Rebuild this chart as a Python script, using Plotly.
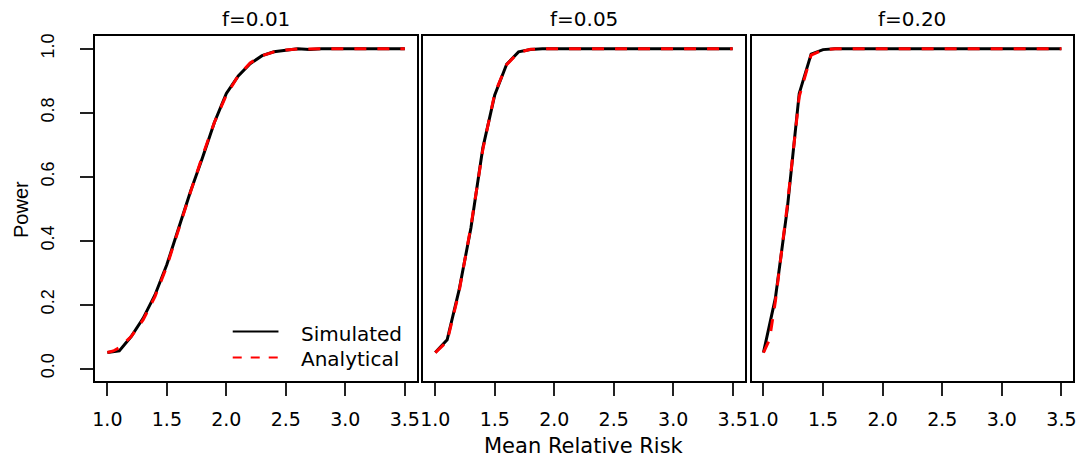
import plotly.graph_objects as go

# Mean relative risk grid used by both methods
rr = [1.0, 1.1, 1.2, 1.3, 1.4, 1.5, 1.6, 1.7, 1.8, 1.9, 2.0, 2.1, 2.2,
      2.3, 2.4, 2.5, 2.6, 2.7, 2.8, 2.9, 3.0, 3.1, 3.2, 3.3, 3.4, 3.5]
rr_analytical = [1.0, 1.05, 1.1, 1.2, 1.3, 1.4, 1.5, 1.6, 1.7, 1.8, 1.9, 2.0, 2.1,
                 2.2, 2.3, 2.4, 2.5, 2.6, 2.7, 2.8, 2.9, 3.0, 3.1, 3.2, 3.3, 3.4, 3.5]

panel_titles = ["f=0.01", "f=0.05", "f=0.20"]

# Simulated power
sim_f001 = [0.05, 0.055, 0.10, 0.157, 0.23, 0.325, 0.44, 0.555, 0.66, 0.77, 0.86, 0.915, 0.953,
            0.978, 0.99, 0.996, 1.0, 0.997, 1.0, 1.0, 1.0, 1.0, 1.0, 1.0, 1.0, 1.0]
sim_f005 = [0.05, 0.09, 0.245, 0.44, 0.69, 0.855, 0.951, 0.99, 0.997, 1.0, 1.0, 1.0, 1.0,
            1.0, 1.0, 1.0, 1.0, 1.0, 1.0, 1.0, 1.0, 1.0, 1.0, 1.0, 1.0, 1.0]
sim_f020 = [0.05, 0.22, 0.50, 0.86, 0.983, 0.997, 1.0, 1.0, 1.0, 1.0, 1.0, 1.0, 1.0,
            1.0, 1.0, 1.0, 1.0, 1.0, 1.0, 1.0, 1.0, 1.0, 1.0, 1.0, 1.0, 1.0]

# Analytical power
ana_f001 = [0.05, 0.055, 0.065, 0.10, 0.152, 0.225, 0.32, 0.44, 0.553, 0.665, 0.77, 0.855, 0.915,
            0.955, 0.978, 0.99, 0.996, 0.999, 1.0, 1.0, 1.0, 1.0, 1.0, 1.0, 1.0, 1.0, 1.0]
ana_f005 = [0.05, 0.068, 0.085, 0.24, 0.445, 0.685, 0.86, 0.95, 0.988, 0.998, 1.0, 1.0, 1.0,
            1.0, 1.0, 1.0, 1.0, 1.0, 1.0, 1.0, 1.0, 1.0, 1.0, 1.0, 1.0, 1.0, 1.0]
ana_f020 = [0.05, 0.09, 0.21, 0.51, 0.85, 0.98, 0.996, 1.0, 1.0, 1.0, 1.0, 1.0, 1.0,
            1.0, 1.0, 1.0, 1.0, 1.0, 1.0, 1.0, 1.0, 1.0, 1.0, 1.0, 1.0, 1.0, 1.0]

x_ticks = [1.0, 1.5, 2.0, 2.5, 3.0, 3.5]
y_ticks = [0.0, 0.2, 0.4, 0.6, 0.8, 1.0]

W, H = 1086, 459
LW = 2  # frame line width
# frame line centres (px); plotly draws axis lines just outside the domain
panel_px = [(92, 417), (421.7, 746.7), (751.7, 1077.3)]
top_px, bottom_px = 33, 382

HFONT = "DejaVu Sans"
VFONT = "Liberation Sans, Arial"

sims = [sim_f001, sim_f005, sim_f020]
anas = [ana_f001, ana_f005, ana_f020]

fig = go.Figure()
layout = dict(
    width=W, height=H,
    margin=dict(l=0, r=0, t=0, b=0),
    paper_bgcolor="white", plot_bgcolor="white",
    showlegend=False,
    annotations=[], shapes=[],
)

h = LW / 2
ydom = [1 - (bottom_px - h) / H, 1 - (top_px + h) / H]

for i in range(3):
    n = "" if i == 0 else str(i + 1)
    xa, ya = "x" + n, "y" + n
    fig.add_trace(go.Scatter(x=rr, y=sims[i], mode="lines", xaxis=xa, yaxis=ya,
                             line=dict(color="black", width=3), name="Simulated"))
    fig.add_trace(go.Scatter(x=rr_analytical, y=anas[i], mode="lines", xaxis=xa, yaxis=ya,
                             line=dict(color="#ff0000", width=3, dash="12px,11px"),
                             name="Analytical"))
    l, r = panel_px[i]
    layout["xaxis" + n] = dict(
        domain=[(l + h) / W, (r - h) / W], range=[0.9, 3.6], anchor=ya,
        tickvals=x_ticks, ticktext=[f"{v:.1f}" for v in x_ticks],
        ticks="outside", ticklen=13, tickwidth=1.5, tickcolor="#222",
        showline=True, linecolor="black", linewidth=LW, mirror=True,
        showgrid=False, zeroline=False,
        tickfont=dict(family=HFONT, size=19, color="black"),
        ticklabelstandoff=7,
    )
    yax = dict(
        domain=ydom, range=[-0.04, 1.04], anchor=xa,
        showline=True, linecolor="black", linewidth=LW, mirror=True,
        showgrid=False, zeroline=False,
    )
    if i == 0:
        yax.update(
            tickvals=y_ticks, ticktext=[f"{v:.1f}" for v in y_ticks],
            ticks="outside", ticklen=13, tickwidth=1.5, tickcolor="#222",
            tickangle=-90, ticklabelstandoff=19,
            tickfont=dict(family=VFONT, size=18, color="black"),
        )
    else:
        yax.update(showticklabels=False, ticks="")
    layout["yaxis" + n] = yax

    layout["annotations"].append(dict(
        text=panel_titles[i], xref="paper", yref="paper",
        x=(l + r) / 2 / W, y=1 - 17 / H, xanchor="center", yanchor="middle",
        showarrow=False, font=dict(family=HFONT, size=20, color="black")))

# Axis titles
layout["annotations"].append(dict(
    text="Mean Relative Risk", xref="paper", yref="paper",
    x=584 / W, y=1 - 446 / H, xanchor="center", yanchor="middle",
    showarrow=False, font=dict(family=HFONT, size=21, color="black")))
layout["annotations"].append(dict(
    text="Power", xref="paper", yref="paper", textangle=-90,
    x=18 / W, y=1 - 208 / H, xanchor="center", yanchor="middle",
    showarrow=False, font=dict(family=VFONT, size=20, color="black")))

# Legend inside the first panel
leg_items = [("Simulated", "black", "solid", 331), ("Analytical", "#ff0000", "9px,9px", 357)]
for label, color, dash, ypx in leg_items:
    layout["shapes"].append(dict(
        type="line", xref="paper", yref="paper",
        x0=231 / W, x1=277 / W, y0=1 - ypx / H, y1=1 - ypx / H,
        line=dict(color=color, width=2, dash=dash)))
    layout["annotations"].append(dict(
        text=label, xref="paper", yref="paper",
        x=298 / W, y=1 - (ypx + 2) / H, xanchor="left", yanchor="middle",
        showarrow=False, font=dict(family=HFONT, size=20, color="black")))

fig.update_layout(**layout)
fig.write_html("out.html")
